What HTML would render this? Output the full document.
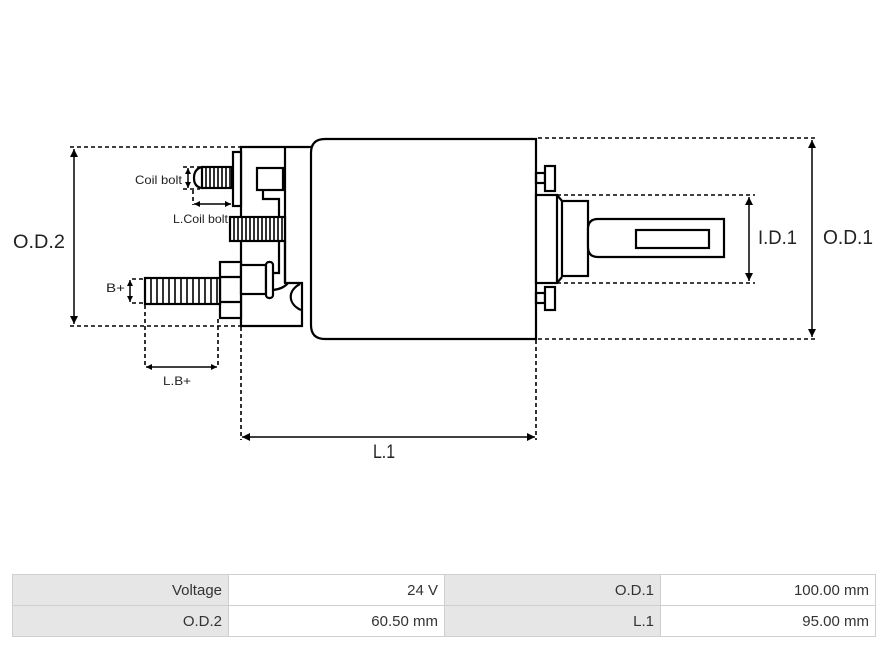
<!DOCTYPE html>
<html><head><meta charset="utf-8"><style>
html,body{margin:0;padding:0;background:#fff;}
body{width:888px;height:649px;position:relative;overflow:hidden;font-family:"Liberation Sans",sans-serif;}
svg{position:absolute;left:0;top:0;}
.c{position:absolute;box-sizing:border-box;height:32px;line-height:32px;text-align:right;padding-right:6px;font-size:15px;color:#333;border:1px solid #cfcfcf;}
.g{background:#e6e6e6;}
.w{background:#fff;}
</style></head><body>
<svg width="888" height="560" viewBox="0 0 888 560">
<defs>
<marker id="a" viewBox="0 0 10 10" refX="10" refY="5" markerWidth="10" markerHeight="8" markerUnits="userSpaceOnUse" orient="auto-start-reverse"><path d="M0,0 L10,5 L0,10 z" fill="#000"/></marker>
<marker id="s" viewBox="0 0 10 10" refX="10" refY="5" markerWidth="6" markerHeight="6" markerUnits="userSpaceOnUse" orient="auto-start-reverse"><path d="M0,0 L10,5 L0,10 z" fill="#000"/></marker>
</defs>
<g stroke="#000" stroke-width="1.6" stroke-dasharray="4 3" fill="none">
<path d="M70,147H240M70,326H240M538,138H815M538,339H815M557,195H755M557,283H755"/>
<path d="M241,327V440M536,340V440M145,305V368M218,319V368"/>
<path d="M132,279H145M132,303H145M183,167H200M183,189H200M193,190V205"/>
</g>
<g stroke="#000" stroke-width="1.5" fill="none">
<line x1="74" y1="149" x2="74" y2="324" marker-start="url(#a)" marker-end="url(#a)"/>
<line x1="812" y1="140" x2="812" y2="337" marker-start="url(#a)" marker-end="url(#a)"/>
<line x1="749" y1="197" x2="749" y2="281" marker-start="url(#a)" marker-end="url(#a)"/>
<line x1="242" y1="437" x2="535" y2="437" marker-start="url(#a)" marker-end="url(#a)"/>
<line x1="146" y1="367" x2="217" y2="367" marker-start="url(#s)" marker-end="url(#s)"/>
<line x1="130" y1="280" x2="130" y2="302" marker-start="url(#s)" marker-end="url(#s)"/>
<line x1="188" y1="168" x2="188" y2="188" marker-start="url(#s)" marker-end="url(#s)"/>
<line x1="194" y1="204" x2="231" y2="204" marker-start="url(#s)" marker-end="url(#s)"/>
</g>
<g stroke="#000" stroke-width="2.2" fill="none">
<!-- main body -->
<path d="M536,139H325Q311,139 311,153V325Q311,339 325,339H536Z" fill="#fff"/>
<!-- left housing -->
<path d="M312,147H241V326H302V283H285V147"/>
<rect x="257" y="168" width="26" height="22"/>
<path d="M263,190V199H279V217M279,241V273H273M285,241V283"/>
<rect x="233" y="152" width="8" height="54" fill="#fff"/>
<!-- coil bolt -->
<path d="M202,167Q194,169 194,178Q194,187 202,188"/>
<rect x="202" y="167" width="30" height="21" fill="#fff"/>
<!-- middle thread -->
<rect x="230" y="217" width="55" height="24" fill="#fff"/>
<!-- nut -->
<rect x="220" y="262" width="21" height="56" fill="#fff"/>
<path d="M220,277H241M220,302H241"/>
<!-- B+ thread -->
<rect x="145" y="278" width="75" height="26" fill="#fff"/>
<!-- spool -->
<rect x="241" y="265" width="25" height="29" fill="#fff"/>
<rect x="266" y="262" width="7" height="36" rx="3" fill="#fff"/>
<path d="M273,290Q283,289 288,283"/>
<path d="M300,284C287,291 288,304 301,310"/>
<!-- right side -->
<rect x="536" y="173" width="9" height="10"/>
<rect x="545" y="166" width="10" height="25" fill="#fff"/>
<rect x="536" y="293" width="9" height="10"/>
<rect x="545" y="287" width="10" height="23" fill="#fff"/>
<rect x="536" y="195" width="21" height="88" fill="#fff"/>
<path d="M557,195L562,201M557,283L562,277"/>
<rect x="562" y="201" width="26" height="75" fill="#fff"/>
<path d="M598,219H724V257H598Q588,257 588,247V229Q588,219 598,219Z" fill="#fff"/>
<rect x="636" y="230" width="73" height="18"/>
</g>
<g stroke="#000" stroke-width="1.6">
<path d="M206,167V188M210,167V188M214,167V188M218,167V188M222,167V188M226,167V188M230,167V188"/>
<path d="M234,217V241M238,217V241M242,217V241M246,217V241M250,217V241M254,217V241M258,217V241M262,217V241M266,217V241M270,217V241M274,217V241M278,217V241M282,217V241"/>
<path d="M151,278V304M157,278V304M163,278V304M169,278V304M175,278V304M181,278V304M187,278V304M193,278V304M199,278V304M205,278V304M211,278V304M217,278V304"/>
</g>
<g fill="#222" font-family="Liberation Sans, sans-serif">
<text x="13" y="248" font-size="19" textLength="52" lengthAdjust="spacingAndGlyphs">O.D.2</text>
<text x="823" y="244" font-size="20" textLength="50" lengthAdjust="spacingAndGlyphs">O.D.1</text>
<text x="758" y="244" font-size="19" textLength="39" lengthAdjust="spacingAndGlyphs">I.D.1</text>
<text x="373" y="458" font-size="19" textLength="22" lengthAdjust="spacingAndGlyphs">L.1</text>
<text x="135" y="184" font-size="12" textLength="47" lengthAdjust="spacingAndGlyphs">Coil bolt</text>
<text x="173" y="223" font-size="12" textLength="55" lengthAdjust="spacingAndGlyphs">L.Coil bolt</text>
<text x="106" y="292" font-size="12" textLength="19" lengthAdjust="spacingAndGlyphs">B+</text>
<text x="163" y="385" font-size="12" textLength="28" lengthAdjust="spacingAndGlyphs">L.B+</text>
</g>
</svg>
<div class="c g" style="left:12px;top:574px;width:217px;">Voltage</div>
<div class="c w" style="left:228px;top:574px;width:217px;">24 V</div>
<div class="c g" style="left:444px;top:574px;width:217px;">O.D.1</div>
<div class="c w" style="left:660px;top:574px;width:216px;">100.00 mm</div>
<div class="c g" style="left:12px;top:605px;width:217px;">O.D.2</div>
<div class="c w" style="left:228px;top:605px;width:217px;">60.50 mm</div>
<div class="c g" style="left:444px;top:605px;width:217px;">L.1</div>
<div class="c w" style="left:660px;top:605px;width:216px;">95.00 mm</div>
</body></html>
